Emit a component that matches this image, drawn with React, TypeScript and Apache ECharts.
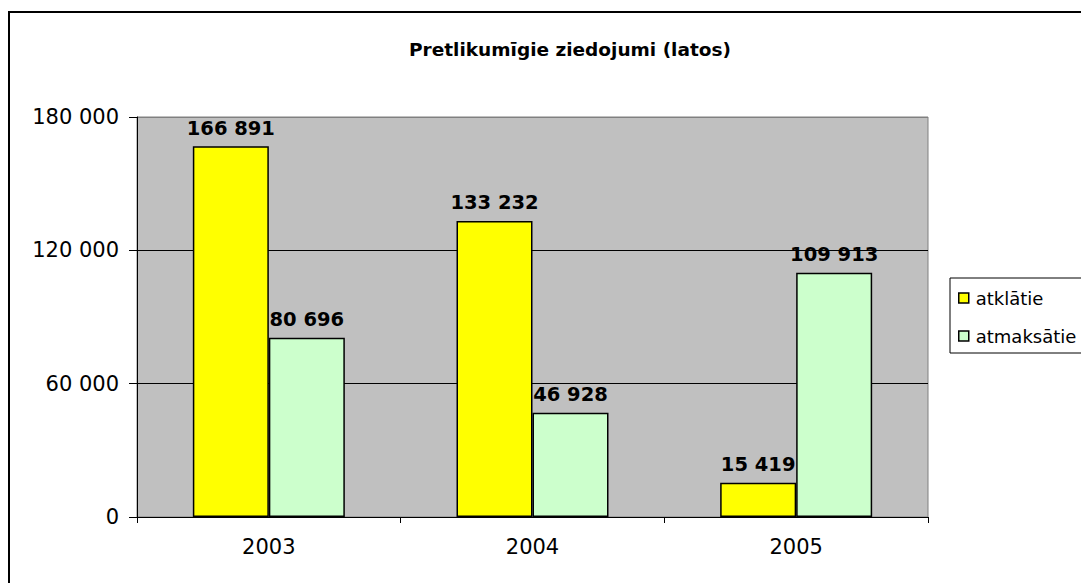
import React, { useEffect, useRef } from "react";
import * as echarts from "echarts";

const years = ["2003", "2004", "2005"];
const atklatie = [166891, 133232, 15419];
const atmaksatie = [80696, 46928, 109913];
const seriesNames = ["atklātie", "atmaksātie"];
const titleText = "Pretlikumīgie ziedojumi (latos)";

const fmt = (v: number) => String(v).replace(/\B(?=(\d{3})+(?!\d))/g, " ");

export default function App() {
  const ref = useRef<HTMLDivElement>(null);
  useEffect(() => {
    if (!ref.current) return;
    const chart = echarts.init(ref.current, null, { renderer: "svg" });
    const font = "DejaVu Sans";
    const labelCfg = {
      show: true,
      position: "top" as const,
      formatter: (p: any) => fmt(p.value),
      fontFamily: font,
      fontWeight: "bold" as const,
      fontSize: 19.5,
      color: "#000",
      distance: 8,
    };
    chart.setOption({
      animation: false,
      backgroundColor: "#fff",
      title: {
        text: titleText,
        left: 565,
        top: 35,
        textAlign: "center",
        textStyle: { fontFamily: font, fontWeight: "bold", fontSize: 18.5, color: "#000" },
      },
      graphic: [
        {
          type: "rect",
          shape: { x: 9, y: 12, width: 1200, height: 700 },
          style: { fill: "none", stroke: "#000", lineWidth: 2 },
          z: 100,
        },
      ],
      legend: {
        orient: "vertical",
        left: 950,
        top: 278,
        data: seriesNames,
        backgroundColor: "#fff",
        borderColor: "#000",
        borderWidth: 1,
        padding: [11, 10, 8, 8],
        itemWidth: 10,
        itemHeight: 10,
        itemGap: 20,
        icon: "rect",
        textStyle: { fontFamily: font, fontSize: 18, color: "#000", padding: [0, 0, 0, 2] },
        itemStyle: { borderColor: "#000", borderWidth: 1.5 },
      },
      grid: {
        left: 137,
        top: 117,
        width: 791,
        height: 400,
        show: true,
        backgroundColor: "#C0C0C0",
        borderColor: "#808080",
        borderWidth: 1,
      },
      xAxis: {
        type: "category",
        data: years,
        axisLine: { lineStyle: { color: "#000", width: 1 } },
        axisTick: { show: true, length: 6, lineStyle: { color: "#000" } },
        axisLabel: { fontFamily: font, fontSize: 21, color: "#000", margin: 19 },
      },
      yAxis: {
        type: "value",
        min: 0,
        max: 180000,
        interval: 60000,
        axisLine: { show: true, lineStyle: { color: "#000", width: 1 } },
        axisTick: { show: true, length: 8, lineStyle: { color: "#000" } },
        axisLabel: { fontFamily: font, fontSize: 21, color: "#000", margin: 18, formatter: (v: number) => fmt(v) },
        splitLine: { show: true, lineStyle: { color: ["#000", "#000", "#000", "#808080"], width: 1 } },
      },
      series: [
        {
          name: seriesNames[0],
          type: "bar",
          data: atklatie,
          barWidth: 76,
          barGap: "0%",
          itemStyle: { color: "#FFFF00", borderColor: "#000", borderWidth: 1.5 },
          label: labelCfg,
        },
        {
          name: seriesNames[1],
          type: "bar",
          data: atmaksatie,
          barWidth: 76,
          barGap: "0%",
          itemStyle: { color: "#CCFFCC", borderColor: "#000", borderWidth: 1.5 },
          label: labelCfg,
        },
      ],
    });
    return () => chart.dispose();
  }, []);
  return (
    <div
      ref={ref}
      style={{ position: "absolute", left: 0, top: 0, width: 1081, height: 583 }}
    />
  );
}
